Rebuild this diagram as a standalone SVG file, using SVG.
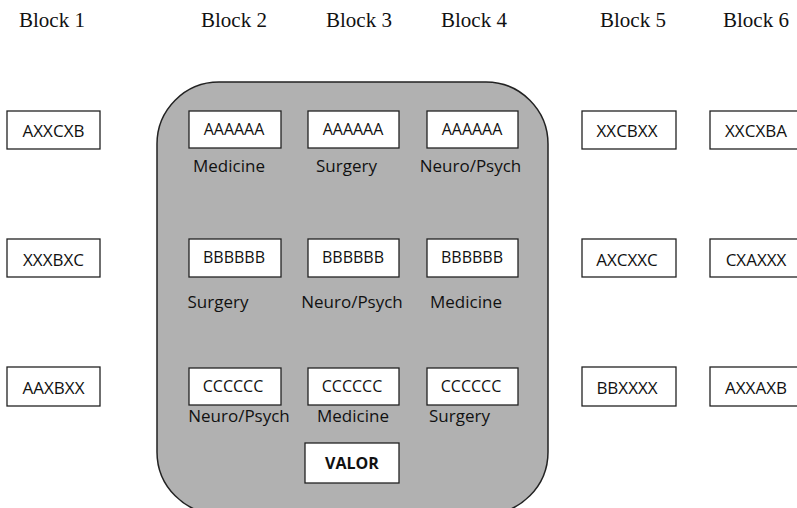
<svg xmlns="http://www.w3.org/2000/svg" width="797" height="508" viewBox="0 0 797 508">
  <style>
    .hdr { font-family: "Liberation Serif", "Times New Roman", serif; font-size: 21px; fill: #111; text-anchor: middle; }
    .box { fill: #fff; stroke: #222; stroke-width: 1.3; }
    .code { font-family: "Open Sans", "Noto Sans", sans-serif; font-size: 16px; fill: #111; text-anchor: middle; }
    .outer { font-size: 17px; }
    .lbl { font-family: "Open Sans", "Noto Sans", sans-serif; font-size: 17px; fill: #111; text-anchor: middle; }
    .bold { font-weight: bold; }
  </style>

  <!-- column headers -->
  <g id="headers">
    <text class="hdr" x="52" y="27">Block 1</text>
    <text class="hdr" x="234" y="27">Block 2</text>
    <text class="hdr" x="359" y="27">Block 3</text>
    <text class="hdr" x="474" y="27">Block 4</text>
    <text class="hdr" x="633" y="27">Block 5</text>
    <text class="hdr" x="756" y="27">Block 6</text>
  </g>

  <!-- shared container for blocks 2-4 -->
  <g id="container">
    <rect x="157" y="82" width="391" height="432" rx="62" ry="62" fill="#b1b1b1" stroke="#222" stroke-width="1.5"/>
  </g>

  <!-- block 1 -->
  <g id="b1-r1"><rect class="box" x="7" y="111" width="93" height="38"/><text class="code outer" x="53.5" y="137">AXXCXB</text></g>
  <g id="b1-r2"><rect class="box" x="7" y="239" width="93" height="38"/><text class="code outer" x="53.5" y="266">XXXBXC</text></g>
  <g id="b1-r3"><rect class="box" x="7" y="367" width="93" height="39"/><text class="code outer" x="53.5" y="394">AAXBXX</text></g>

  <!-- blocks 2-4, row A -->
  <g id="b2-a"><rect class="box" x="189" y="111" width="92" height="37"/><text class="code" x="234" y="135">AAAAAA</text><text class="lbl" x="229" y="172">Medicine</text></g>
  <g id="b3-a"><rect class="box" x="308" y="111" width="91" height="37"/><text class="code" x="353" y="135">AAAAAA</text><text class="lbl" x="346.5" y="172">Surgery</text></g>
  <g id="b4-a"><rect class="box" x="427" y="111" width="91" height="37"/><text class="code" x="472" y="135">AAAAAA</text><text class="lbl" x="470.5" y="172">Neuro/Psych</text></g>

  <!-- blocks 2-4, row B -->
  <g id="b2-b"><rect class="box" x="189" y="239" width="92" height="38"/><text class="code" x="234" y="263">BBBBBB</text><text class="lbl" x="218" y="308">Surgery</text></g>
  <g id="b3-b"><rect class="box" x="308" y="239" width="91" height="38"/><text class="code" x="353" y="263">BBBBBB</text><text class="lbl" x="352" y="308">Neuro/Psych</text></g>
  <g id="b4-b"><rect class="box" x="427" y="239" width="91" height="38"/><text class="code" x="472" y="263">BBBBBB</text><text class="lbl" x="466" y="308">Medicine</text></g>

  <!-- blocks 2-4, row C -->
  <g id="b2-c"><rect class="box" x="189" y="368" width="92" height="37"/><text class="code" x="233" y="392">CCCCCC</text><text class="lbl" x="239" y="422">Neuro/Psych</text></g>
  <g id="b3-c"><rect class="box" x="308" y="368" width="91" height="37"/><text class="code" x="352" y="392">CCCCCC</text><text class="lbl" x="353" y="422">Medicine</text></g>
  <g id="b4-c"><rect class="box" x="427" y="368" width="91" height="37"/><text class="code" x="471" y="392">CCCCCC</text><text class="lbl" x="459.5" y="422">Surgery</text></g>

  <g id="valor"><rect class="box" x="305" y="443" width="94" height="40"/><text class="code bold" x="352" y="469">VALOR</text></g>

  <!-- block 5 -->
  <g id="b5-r1"><rect class="box" x="582" y="111" width="94" height="38"/><text class="code outer" x="627" y="137">XXCBXX</text></g>
  <g id="b5-r2"><rect class="box" x="582" y="239" width="94" height="38"/><text class="code outer" x="627" y="266">AXCXXC</text></g>
  <g id="b5-r3"><rect class="box" x="582" y="367" width="94" height="39"/><text class="code outer" x="627" y="394">BBXXXX</text></g>

  <!-- block 6 -->
  <g id="b6-r1"><rect class="box" x="710" y="111" width="94" height="38"/><text class="code outer" x="756" y="137">XXCXBA</text></g>
  <g id="b6-r2"><rect class="box" x="710" y="239" width="94" height="38"/><text class="code outer" x="756" y="266">CXAXXX</text></g>
  <g id="b6-r3"><rect class="box" x="710" y="367" width="94" height="39"/><text class="code outer" x="756" y="394">AXXAXB</text></g>

  <g id="connectors"></g>
</svg>
